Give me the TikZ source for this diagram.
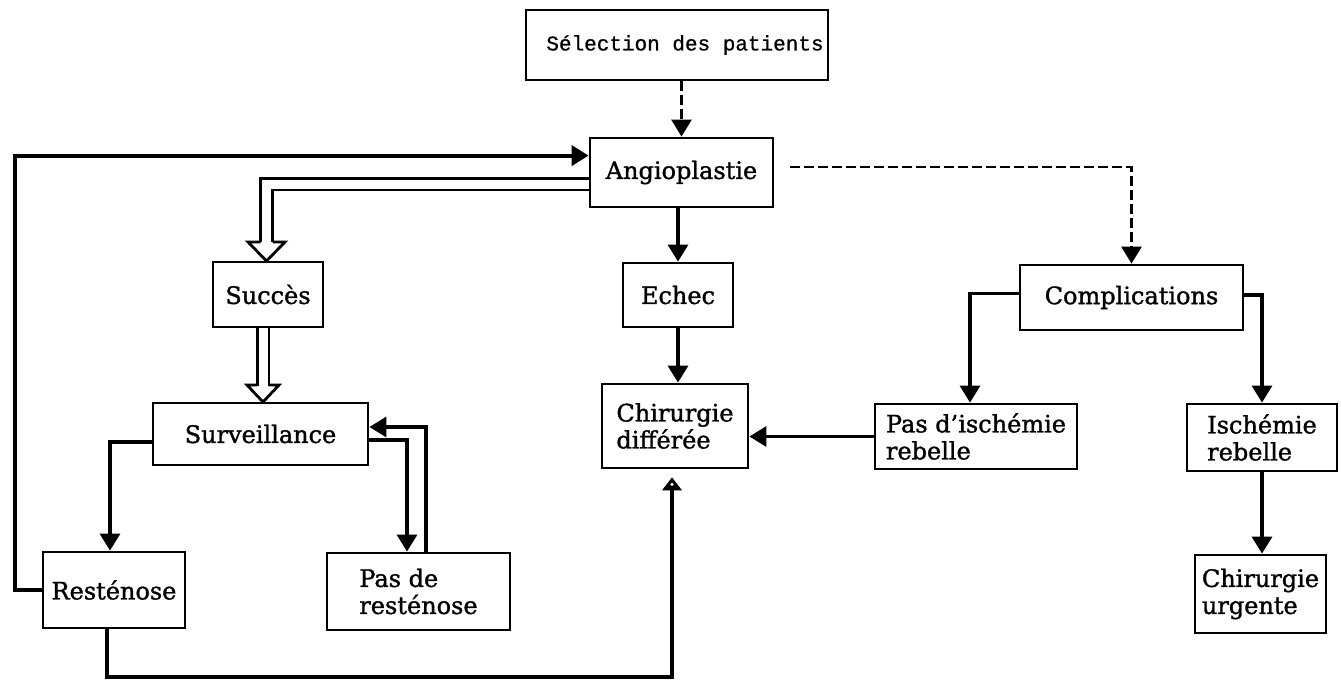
\documentclass[tikz,border=0pt]{standalone}
\usepackage{fontspec}
\setmainfont{DejaVu Serif}[FakeBold=1.3]
\newfontfamily\monof{Liberation Mono}[FakeBold=0.8]
\usetikzlibrary{arrows.meta}
\begin{document}
\begin{tikzpicture}[x=1pt,y=-1pt,
 box/.style={draw,line width=2.8pt,inner sep=0pt,align=left,font=\fontsize{24}{27}\selectfont},
 conn/.style={line width=3.2pt,-{Triangle[width=20pt,length=17pt]}},
 dconn/.style={line width=2.8pt,dash pattern=on 10pt off 4pt,-{Triangle[width=20pt,length=17pt]}},
 hollowline/.style={line width=2.8pt,double=white,double distance=9pt},
 hollowhead/.style={line width=2.8pt,line join=miter}]
\useasboundingbox[fill=white] (0,0) rectangle (1341,682);

\node[box,minimum width=302pt,minimum height=70pt,font=\monof\fontsize{21}{24}\selectfont] (sel) at (677,45) {\hspace*{16pt}Sélection des patients};
\node[box,minimum width=183pt,minimum height=69pt] (ang) at (681.5,172.5) {Angioplastie};
\node[box,minimum width=110pt,minimum height=65pt] (suc) at (268,294.5) {Succès};
\node[box,minimum width=110pt,minimum height=64pt] (ech) at (678,295) {Echec};
\node[box,minimum width=223pt,minimum height=65pt] (comp) at (1131.5,297.5) {Complications};
\node[box,minimum width=215pt,minimum height=62pt] (surv) at (260.5,434) {Surveillance};
\node[box,minimum width=146pt,minimum height=84pt] (chd) at (675,426) {Chirurgie\\différée};
\node[box,minimum width=202pt,minimum height=65pt] (pdi) at (976,436.5) {Pas d'ischémie\\rebelle};
\node[box,minimum width=150pt,minimum height=67pt] (isr) at (1262,437.5) {Ischémie\\rebelle};
\node[box,minimum width=142pt,minimum height=76pt] (rest) at (114,590) {Resténose};
\node[box,minimum width=183pt,minimum height=77pt] (pdr) at (418.5,591.5) {Pas de\\resténose};
\node[box,minimum width=131pt,minimum height=78pt] (chu) at (1260.5,594) {Chirurgie\\urgente};

% dashed connectors
\draw[dconn] (sel.south -| ang.north) -- (ang.north);
\draw[dconn] ([xshift=16pt,yshift=5.5pt]ang.east) -| (comp.north);

% solid connectors
\coordinate (L1) at (15,590);
\draw[conn,line width=4pt,line join=miter] (rest.west) -- (L1) |- ([yshift=-19pt]ang.north west);
\draw[conn] (ang.south -| ech.north) -- (ech.north);
\draw[conn] (ech.south) -- (ech.south |- chd.north);
\draw[conn] ([yshift=4pt]comp.west) -| ([xshift=-6pt]pdi.north);
\draw[conn] ([yshift=2.5pt]comp.east) -| (isr.north);
\draw[conn] (pdi.west) -- (chd.east |- pdi.west);
\draw[conn] (isr.south) -- (isr.south |- chu.north);
\draw[conn] ([yshift=-8pt]surv.west) -| ([xshift=-4pt]rest.north);
\draw[conn] ([yshift=-6pt]surv.east) -| ([xshift=-11.5pt]pdr.north);
\draw[conn] ([xshift=7.5pt]pdr.north) |- ([yshift=7pt]surv.east);

\coordinate (B) at (672,677);
\coordinate (C) at ([xshift=-3pt,yshift=-21pt]chd.south);
\coordinate (T) at ([xshift=-3pt,yshift=-8pt]chd.south);
\draw[line width=3.2pt,line join=miter] ([xshift=-7pt]rest.south) |- (B) -- (C);
\fill (T) -- ++(-10,13) -- ++(20,0) -- cycle;
\fill[white] ([yshift=-7pt]T) circle (1.8pt);

% hollow double arrows
\draw[hollowline] ([yshift=-11.5pt]ang.west) -| (266.5,242);
\draw[hollowhead] (260.5,242) -- (248,242) -- (266.5,261) -- (285,242) -- (272.5,242);
\draw[hollowline] ([xshift=-5pt]suc.south) -- ++(0,58);
\draw[hollowhead] (257,385) -- (247,385) -- (263,402) -- (279,385) -- (269,385);
\end{tikzpicture}
\end{document}
